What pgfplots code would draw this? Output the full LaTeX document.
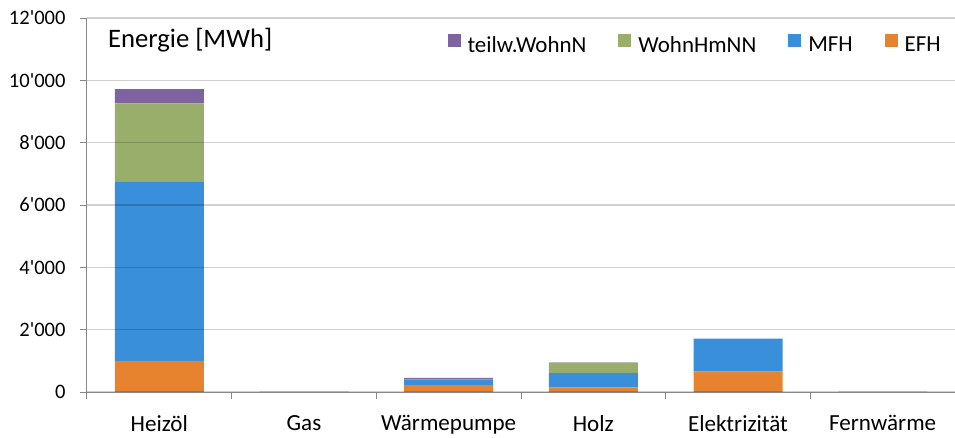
\documentclass[border=0pt]{standalone}
\usepackage{pgfplots}
\pgfplotsset{compat=1.18}
\usepackage{fontspec}
\setmainfont{Carlito}[Ligatures=TeXOff]
\definecolor{cEFH}{HTML}{E7822F}
\definecolor{cMFH}{HTML}{3A8FDA}
\definecolor{cWHNN}{HTML}{9AAE6B}
\definecolor{cTW}{HTML}{7F62A0}
\definecolor{axgray}{HTML}{868686}
\begin{document}
\fontsize{15.5}{18}\selectfont
\begin{tikzpicture}
\useasboundingbox (-65.25pt,-33.75pt) rectangle (651pt,294pt);
\begin{axis}[
  at={(0,0)}, anchor=south west,
  scale only axis, width=651pt, height=280.5pt,
  ybar stacked, bar width=66.75pt,
  xmin=-0.5, xmax=5.5, ymin=0, ymax=12000,
  xtick={0,...,5},
  xticklabels={Heizöl,Gas,Wärmepumpe,Holz,Elektrizität,Fernwärme},
  major x tick style={draw=none},
  minor xtick={-0.5,0.5,...,5.5},
  minor tick length=5pt,
  major tick length=5.25pt,
  ytick={0,2000,...,12000},
  scaled y ticks=false,
  yticklabel style={xshift=-5.5pt, font=\fontsize{15.4}{18}\selectfont, /pgf/number format/.cd, 1000 sep={'}, assume math mode=true},
  xticklabel style={yshift=-7pt, font=\fontsize{17.3}{20}\selectfont},
  ymajorgrids,
  grid style={black, opacity=0.18, line width=0.8pt},
  axis on top,
  axis x line*=bottom, axis y line*=left,
  axis line style={axgray, line width=0.75pt, -},
  tick style={axgray, line width=0.75pt},
  tick align=outside,
  reverse legend,
  legend columns=-1,
  legend style={draw=none, fill=none, at={(0.9885,0.965)}, anchor=north east,
    font=\fontsize{17.2}{20}\selectfont,
    nodes={inner sep=0pt},
    /tikz/every odd column/.append style={column sep=5.25pt},
    /tikz/every even column/.append style={column sep=24pt}},
  legend image code/.code={\fill[#1,draw=none] (0pt,-0.05em) rectangle (9.75pt,0.58em);},
]
\addplot[fill=cEFH, draw=none] coordinates {(0,1000) (1,10) (2,220) (3,150) (4,650) (5,10)};
\addplot[fill=cMFH, draw=none] coordinates {(0,5740) (1,0) (2,185) (3,460) (4,1060) (5,0)};
\addplot[fill=cWHNN, draw=none] coordinates {(0,2520) (1,0) (2,15) (3,330) (4,0) (5,0)};
\addplot[fill=cTW, draw=none] coordinates {(0,460) (1,0) (2,30) (3,10) (4,0) (5,0)};
\legend{EFH,MFH,WohnHmNN,teilw.WohnN}
\node[anchor=base west, inner sep=0pt, font=\fontsize{20}{24}\selectfont] at (rel axis cs:0.024,0.922) {Energie [MWh]};
\end{axis}
\end{tikzpicture}
\end{document}
